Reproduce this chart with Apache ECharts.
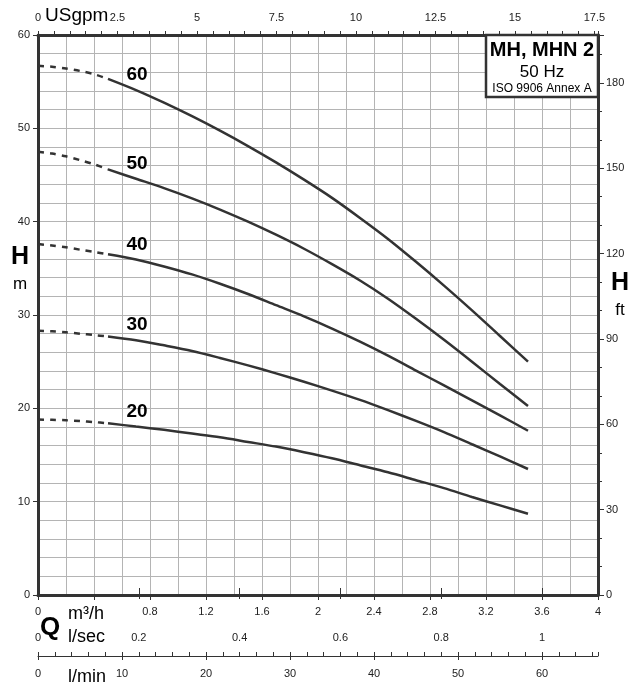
<!DOCTYPE html>
<html>
<head>
<meta charset="utf-8">
<script src="https://cdn.jsdelivr.net/npm/echarts@6/dist/echarts.min.js"></script>
<style>
html,body{margin:0;padding:0;background:#fff;}
#c{width:630px;height:687px;}
</style>
</head>
<body>
<div id="c"></div>
<script>
// Flow (m³/h) sample points
var qDash = [0, 0.1, 0.2, 0.3, 0.4, 0.5];
var qSolid = [0.5, 0.7, 0.9, 1.1, 1.3, 1.5, 1.7, 1.9, 2.1, 2.3, 2.5, 2.7, 2.9, 3.1, 3.3, 3.5];
// Curve names
var curveNames = ['60', '50', '40', '30', '20'];
// Dashed (extrapolated) head, m
var dash60 = [56.7, 56.6, 56.4, 56.15, 55.8, 55.3];
var dash50 = [47.5, 47.3, 47.0, 46.6, 46.15, 45.6];
var dash40 = [37.6, 37.45, 37.25, 37.0, 36.75, 36.5];
var dash30 = [28.3, 28.25, 28.15, 28.0, 27.85, 27.7];
var dash20 = [18.8, 18.77, 18.72, 18.63, 18.53, 18.4];
// Solid head, m
var head60 = [55.3, 54.1, 52.75, 51.3, 49.75, 48.1, 46.35, 44.5, 42.55, 40.4, 38.15, 35.7, 33.15, 30.5, 27.75, 25.0];
var head50 = [45.6, 44.6, 43.6, 42.5, 41.3, 40.0, 38.6, 37.1, 35.45, 33.7, 31.75, 29.6, 27.35, 25.0, 22.6, 20.25];
var head40 = [36.5, 35.95, 35.2, 34.35, 33.35, 32.25, 31.05, 29.85, 28.55, 27.15, 25.65, 24.05, 22.45, 20.85, 19.25, 17.6];
var head30 = [27.7, 27.3, 26.75, 26.15, 25.4, 24.6, 23.75, 22.85, 21.9, 20.9, 19.8, 18.65, 17.45, 16.15, 14.85, 13.5];
var head20 = [18.4, 18.05, 17.7, 17.3, 16.9, 16.4, 15.9, 15.3, 14.65, 13.9, 13.15, 12.3, 11.45, 10.5, 9.6, 8.7];
// Axis ranges / ticks
var qMax = 4;            // m³/h
var hMax = 60;           // m
var gpmMax = qMax * 4.40287;
var lsMax = qMax / 3.6;
var lminMax = qMax * 1000 / 60;
var ftMax = hMax * 3.28084;
var titleLines = ['MH, MHN 2', '50 Hz', 'ISO 9906 Annex A'];

var FONT = 'Liberation Sans, Arial, sans-serif';
var DARK = '#333333';
var GRIDC = '#b4b4b4';
var LBL = {color: '#222', fontSize: 11, fontFamily: FONT};

var dashSets = [dash60, dash50, dash40, dash30, dash20];
var solidSets = [head60, head50, head40, head30, head20];

function pairs(xs, ys) { return xs.map(function (x, i) { return [x, ys[i]]; }); }

var series = [];
curveNames.forEach(function (n, k) {
  series.push({
    type: 'line', name: n + 'd', data: pairs(qDash, dashSets[k]),
    smooth: 0.3, symbol: 'none', silent: true,
    lineStyle: {color: DARK, width: 2.5, type: [6, 6]}
  });
  var s = solidSets[k];
  series.push({
    type: 'line', name: n, data: pairs(qSolid, s),
    smooth: 0.3, symbol: 'none', silent: true,
    lineStyle: {color: DARK, width: 2.5},
    markPoint: {
      symbol: 'circle', symbolSize: 1, itemStyle: {color: 'rgba(0,0,0,0)'},
      data: [{coord: [qSolid[1], s[1]], value: n}],
      label: {show: true, formatter: n, position: 'top', distance: 5, offset: [1, 0],
        color: '#000', fontSize: 19, fontWeight: 'bold', fontFamily: FONT}
    }
  });
});

var chart = echarts.init(document.getElementById('c'), null, {renderer: 'canvas'});
chart.setOption({
  animation: false,
  backgroundColor: '#fff',
  grid: {left: 38, right: 32, top: 35, bottom: 92, containLabel: false},
  xAxis: [
    { // m³/h
      type: 'value', position: 'bottom', min: 0, max: qMax, interval: 0.4,
      axisLine: {show: true, onZero: false, lineStyle: {color: DARK, width: 3}},
      axisTick: {show: true, length: 5, lineStyle: {color: DARK, width: 1}},
      axisLabel: Object.assign({margin: 11, formatter: function (v) {
        if (Math.abs(v - 0.4) < 1e-6) return '';
        return (Math.round(v * 10) / 10).toString();
      }}, LBL),
      splitLine: {show: true, lineStyle: {color: GRIDC, width: 1}},
      minorTick: {show: false, splitNumber: 2},
      minorSplitLine: {show: true, lineStyle: {color: GRIDC, width: 1}}
    },
    { // USgpm
      type: 'value', position: 'top', min: 0, max: gpmMax, interval: 2.5,
      axisLine: {show: true, onZero: false, lineStyle: {color: DARK, width: 3}},
      axisTick: {show: true, length: 4, lineStyle: {color: DARK, width: 1}},
      minorTick: {show: true, splitNumber: 5, length: 4, lineStyle: {color: DARK, width: 1}},
      axisLabel: Object.assign({margin: 12, showMaxLabel: false, formatter: function (v) {
        return (Math.round(v * 10) / 10).toString();
      }}, LBL),
      splitLine: {show: false}
    },
    { // l/sec labels + upper ticks
      type: 'value', position: 'bottom', offset: 61, min: 0, max: lsMax, interval: 0.2,
      axisLine: {show: false},
      axisTick: {show: true, inside: true, length: 7, lineStyle: {color: DARK, width: 1}},
      axisLabel: Object.assign({inside: true, margin: 13, showMaxLabel: false, formatter: function (v) {
        return (Math.round(v * 10) / 10).toString();
      }}, LBL),
      splitLine: {show: false}
    },
    { // l/sec lower ticks
      type: 'value', position: 'bottom', offset: 61, min: 0, max: lsMax, interval: 0.2,
      axisLine: {show: false},
      axisTick: {show: true, length: 4, lineStyle: {color: DARK, width: 1}},
      axisLabel: {show: false},
      splitLine: {show: false}
    },
    { // l/min line, ticks and labels
      type: 'value', position: 'bottom', offset: 61, min: 0, max: lminMax, interval: 10,
      axisLine: {show: true, onZero: false, lineStyle: {color: DARK, width: 1}},
      axisTick: {show: true, length: 4, lineStyle: {color: DARK, width: 1}},
      axisLabel: Object.assign({margin: 12, showMaxLabel: false}, LBL),
      splitLine: {show: false}
    },
    { // l/min minor ticks
      type: 'value', position: 'bottom', offset: 61, min: 0, max: lminMax, interval: 2,
      axisLine: {show: false},
      axisTick: {show: true, inside: true, length: 4, lineStyle: {color: DARK, width: 1}},
      axisLabel: {show: false},
      splitLine: {show: false}
    }
  ],
  yAxis: [
    { // m
      type: 'value', position: 'left', min: 0, max: hMax, interval: 10,
      axisLine: {show: true, onZero: false, lineStyle: {color: DARK, width: 3}},
      axisTick: {show: true, length: 5, lineStyle: {color: DARK, width: 1}},
      axisLabel: Object.assign({margin: 8}, LBL),
      splitLine: {show: true, lineStyle: {color: GRIDC, width: 1}},
      minorTick: {show: false, splitNumber: 5},
      minorSplitLine: {show: true, lineStyle: {color: GRIDC, width: 1}}
    },
    { // ft
      type: 'value', position: 'right', min: 0, max: ftMax, interval: 30,
      axisLine: {show: true, onZero: false, lineStyle: {color: DARK, width: 3}},
      axisTick: {show: true, length: 6, lineStyle: {color: DARK, width: 1}},
      minorTick: {show: true, splitNumber: 3, length: 4, lineStyle: {color: DARK, width: 1}},
      axisLabel: Object.assign({margin: 8, showMaxLabel: false, formatter: function (v) {
        return Math.round(v).toString();
      }}, LBL),
      splitLine: {show: false}
    }
  ],
  series: series,
  graphic: [
    {type: 'rect', shape: {x: 486, y: 35, width: 112, height: 62}, z: 100,
      style: {fill: '#fff', stroke: DARK, lineWidth: 2.5}},
    {type: 'text', x: 542, y: 50, z: 101, style: {text: titleLines[0], fill: '#000',
      font: 'bold 20px ' + FONT, textAlign: 'center', textVerticalAlign: 'middle'}},
    {type: 'text', x: 542, y: 72, z: 101, style: {text: titleLines[1], fill: '#000',
      font: '17px ' + FONT, textAlign: 'center', textVerticalAlign: 'middle'}},
    {type: 'text', x: 542, y: 89, z: 101, style: {text: titleLines[2], fill: '#000',
      font: '12px ' + FONT, textAlign: 'center', textVerticalAlign: 'middle'}},
    {type: 'text', x: 45, y: 16, style: {text: 'USgpm', fill: '#000',
      font: '19px ' + FONT, textAlign: 'left', textVerticalAlign: 'middle'}},
    {type: 'text', x: 50, y: 628, style: {text: 'Q', fill: '#000',
      font: 'bold 26px ' + FONT, textAlign: 'center', textVerticalAlign: 'middle'}},
    {type: 'text', x: 68, y: 614, style: {text: 'm³/h', fill: '#000',
      font: '18px ' + FONT, textAlign: 'left', textVerticalAlign: 'middle'}},
    {type: 'text', x: 68, y: 637, style: {text: 'l/sec', fill: '#000',
      font: '18px ' + FONT, textAlign: 'left', textVerticalAlign: 'middle'}},
    {type: 'text', x: 68, y: 677, style: {text: 'l/min', fill: '#000',
      font: '18px ' + FONT, textAlign: 'left', textVerticalAlign: 'middle'}},
    {type: 'text', x: 20, y: 257, style: {text: 'H', fill: '#000',
      font: 'bold 25px ' + FONT, textAlign: 'center', textVerticalAlign: 'middle'}},
    {type: 'text', x: 20, y: 284, style: {text: 'm', fill: '#000',
      font: '17px ' + FONT, textAlign: 'center', textVerticalAlign: 'middle'}},
    {type: 'text', x: 620, y: 283, style: {text: 'H', fill: '#000',
      font: 'bold 25px ' + FONT, textAlign: 'center', textVerticalAlign: 'middle'}},
    {type: 'text', x: 620, y: 310, style: {text: 'ft', fill: '#000',
      font: '17px ' + FONT, textAlign: 'center', textVerticalAlign: 'middle'}}
  ]
});
</script>
</body>
</html>
